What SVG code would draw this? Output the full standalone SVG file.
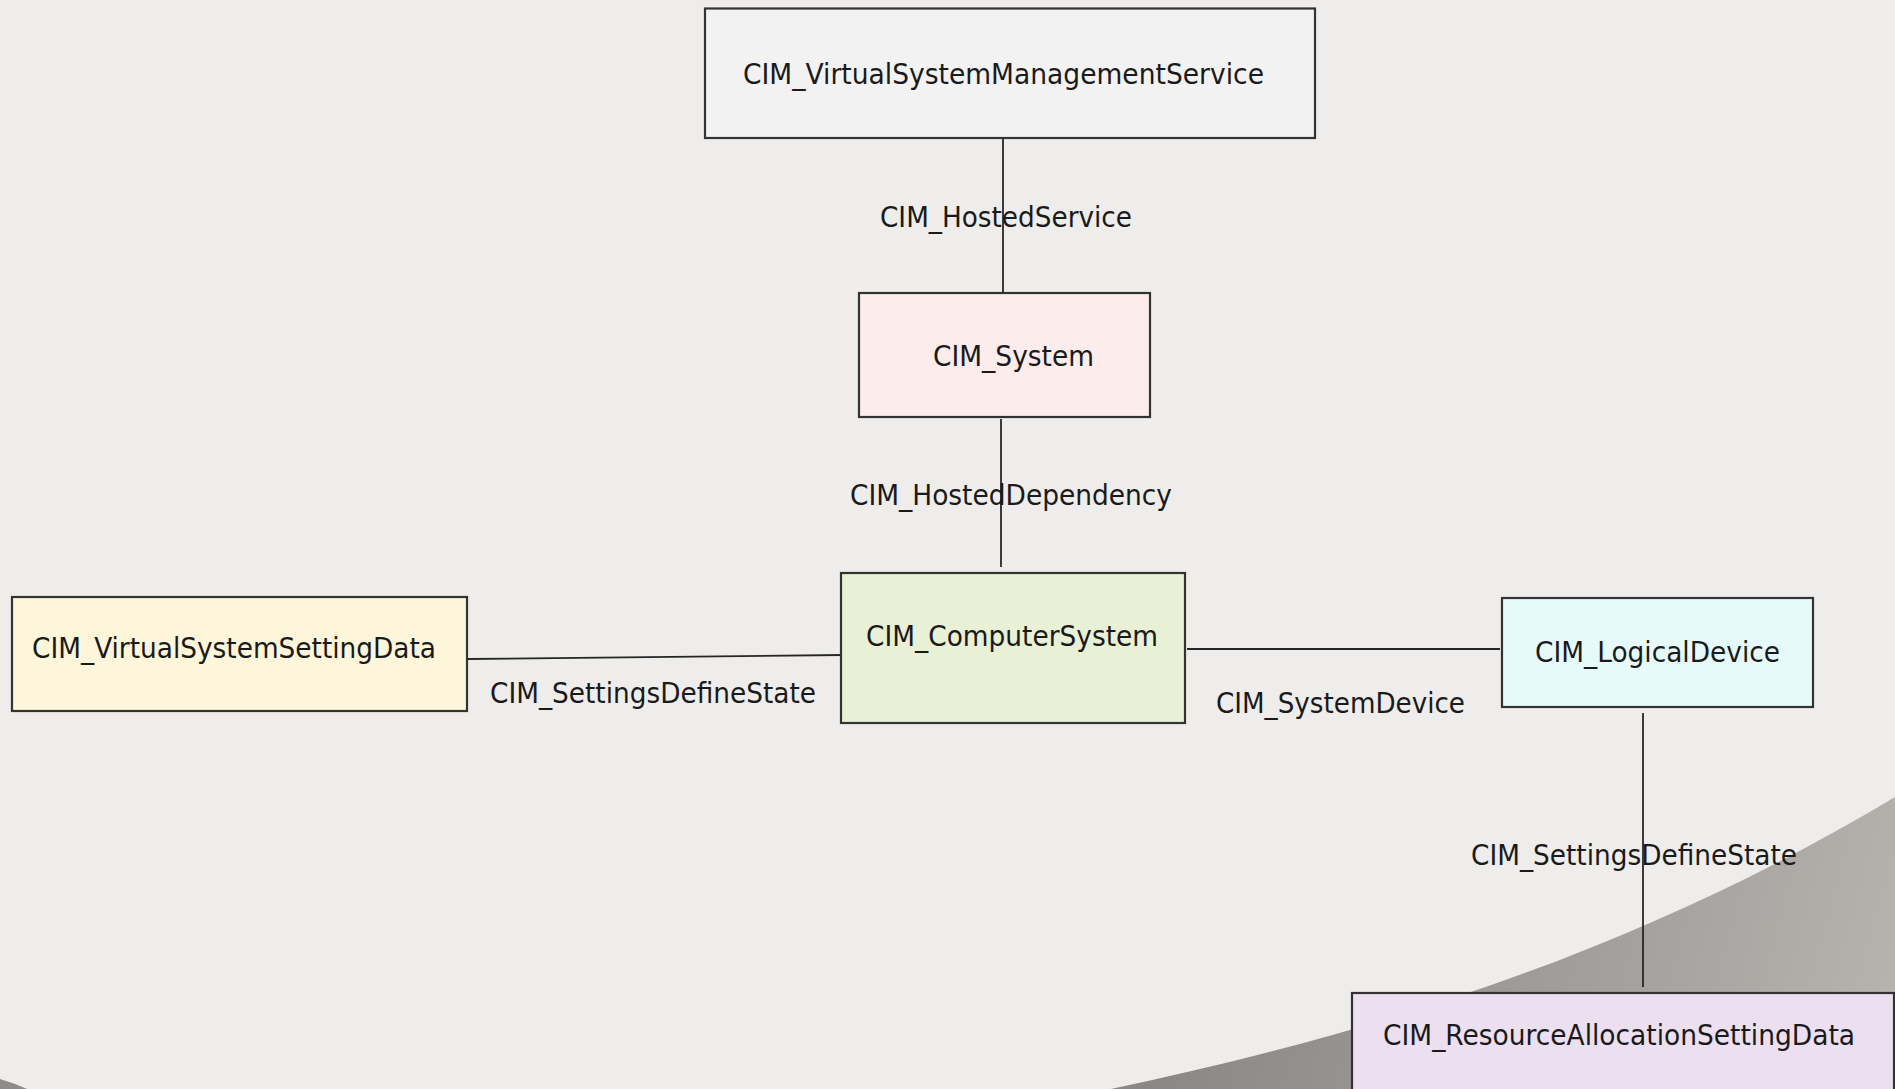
<svg xmlns="http://www.w3.org/2000/svg" width="1895" height="1089" viewBox="0 0 1895 1089">
  <defs>
    <linearGradient id="shade" x1="1200" y1="900" x2="1895" y2="1089" gradientUnits="userSpaceOnUse">
      <stop offset="0" stop-color="#8b8784"/>
      <stop offset="0.6" stop-color="#a5a19e"/>
      <stop offset="1" stop-color="#b8b5b1"/>
    </linearGradient>
    <style>
      .box { stroke: #333333; stroke-width: 2.2; }
      .lbl { font-family: "DejaVu Sans Condensed", "DejaVu Sans", sans-serif; font-stretch: condensed; font-size: 29px; fill: #1a1a1a; }
      .edge { stroke: #262626; stroke-width: 1.8; fill: none; }
    </style>
  </defs>

  <!-- backdrop -->
  <rect x="0" y="0" width="1895" height="1089" fill="#eeedeb"/>
  <path d="M1111 1089 C1371 1034 1635 953 1895 797 L1895 1089 Z" fill="url(#shade)"/>
  <path d="M0 1079 Q14 1083 27 1089 L0 1089 Z" fill="#8f8b88"/>

  <!-- connectors -->
  <g id="connectors">
    <line class="edge" x1="1003" y1="138" x2="1003" y2="292"/>
    <text class="lbl" x="880" y="227" textLength="252" lengthAdjust="spacingAndGlyphs">CIM_HostedService</text>

    <line class="edge" x1="1001" y1="419" x2="1001" y2="567"/>
    <text class="lbl" x="850" y="505" textLength="322" lengthAdjust="spacingAndGlyphs">CIM_HostedDependency</text>

    <line class="edge" x1="467" y1="659" x2="843" y2="655"/>
    <text class="lbl" x="490" y="703" textLength="326" lengthAdjust="spacingAndGlyphs">CIM_SettingsDefineState</text>

    <line class="edge" x1="1187" y1="649" x2="1500" y2="649" stroke-width="2.8"/>
    <text class="lbl" x="1216" y="713" textLength="249" lengthAdjust="spacingAndGlyphs">CIM_SystemDevice</text>

    <line class="edge" x1="1643" y1="713" x2="1643" y2="987"/>
    <text class="lbl" x="1471" y="865" textLength="326" lengthAdjust="spacingAndGlyphs">CIM_SettingsDefineState</text>
  </g>

  <!-- nodes -->
  <g id="vsms">
    <rect class="box" x="705" y="8.5" width="610" height="129.5" fill="#f2f2f2"/>
    <text class="lbl" x="743" y="84" textLength="521" lengthAdjust="spacingAndGlyphs">CIM_VirtualSystemManagementService</text>
  </g>

  <g id="system">
    <rect class="box" x="859" y="293" width="291" height="124" fill="#fcecec"/>
    <text class="lbl" x="933" y="366" textLength="161" lengthAdjust="spacingAndGlyphs">CIM_System</text>
  </g>

  <g id="computersystem">
    <rect class="box" x="841" y="573" width="344" height="150" fill="#e8f0d6"/>
    <text class="lbl" x="866" y="646" textLength="292" lengthAdjust="spacingAndGlyphs">CIM_ComputerSystem</text>
  </g>

  <g id="vssd">
    <rect class="box" x="12" y="597" width="455" height="114" fill="#fdf6da"/>
    <text class="lbl" x="32" y="658" textLength="404" lengthAdjust="spacingAndGlyphs">CIM_VirtualSystemSettingData</text>
  </g>

  <g id="logicaldevice">
    <rect class="box" x="1502" y="598" width="311" height="109" fill="#e6fafa"/>
    <text class="lbl" x="1535" y="662" textLength="245" lengthAdjust="spacingAndGlyphs">CIM_LogicalDevice</text>
  </g>

  <g id="rasd">
    <rect class="box" x="1352" y="993" width="542" height="110" fill="#ecdff0"/>
    <text class="lbl" x="1383" y="1045" textLength="472" lengthAdjust="spacingAndGlyphs">CIM_ResourceAllocationSettingData</text>
  </g>
</svg>
